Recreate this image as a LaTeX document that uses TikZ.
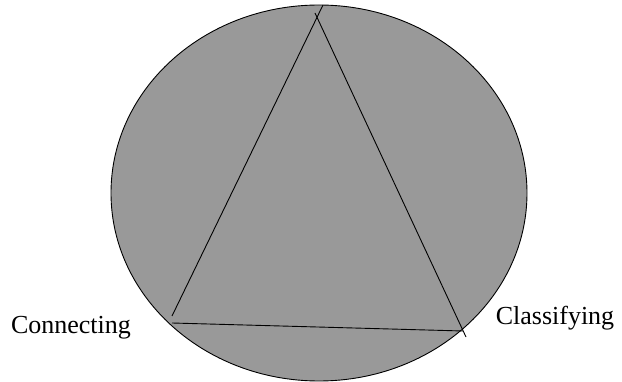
\documentclass[tikz,border=0pt]{standalone}
\usepackage{fontspec}
\setmainfont{Liberation Serif}
\definecolor{discgray}{RGB}{153,153,153}
\tikzset{label text/.style={font=\fontsize{26}{31}\selectfont, inner sep=0pt}}

\begin{document}
\begin{tikzpicture}[x=1pt,y=-1pt]
    \useasboundingbox (0,0) rectangle (622,382);
    \filldraw[fill=discgray, draw=black, line width=0.9pt] (319,193) ellipse (208 and 188);
    % ends of the three sides
    \coordinate (topA) at (323,5);
    \coordinate (leftA) at (172,316);
    \coordinate (topB) at (315,13);
    \coordinate (rightB) at (466,337);
    \coordinate (leftC) at (172,323);
    \coordinate (rightC) at (463,331);
	\draw[line width=0.9pt] (topA) -- (leftA);
	\draw[line width=0.9pt] (topB) -- (rightB);
	\draw[line width=0.9pt] (leftC) -- (rightC);
    \node[label text] (connecting) at (71,328) {Connecting};
    \node[label text] (classifying) at (555,318) {Classifying};
\end{tikzpicture}
\end{document}
